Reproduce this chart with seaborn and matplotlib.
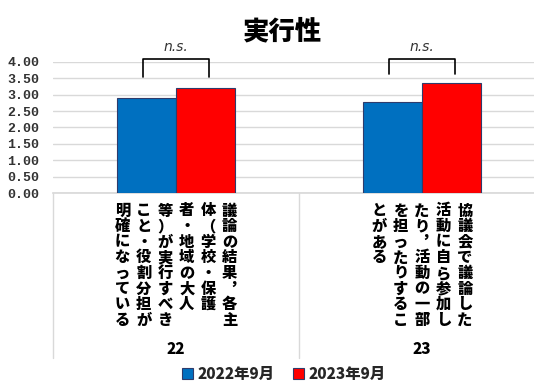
import matplotlib
matplotlib.use("Agg")
import matplotlib.pyplot as plt
import matplotlib.transforms as mtransforms
from matplotlib.patches import Patch
import seaborn as sns
import pandas as pd

# ---- data ----
categories = ["22", "23"]
series_names = ["2022年9月", "2023年9月"]
values_2022 = [2.89, 2.77]
values_2023 = [3.22, 3.37]
yticks = [0.0, 0.5, 1.0, 1.5, 2.0, 2.5, 3.0, 3.5, 4.0]
# vertical description columns (right to left)
descriptions = [
    ["議論の結果︐各主", "体（学校・保護", "者・地域の大人", "等）が実行すべき", "こと・役割分担が", "明確になっている"],
    ["協議会で議論した", "活動に自ら参加し", "たり︐活動の一部", "を担ったりするこ", "とがある"],
]
title = "実行性"
sig_labels = ["n.s.", "n.s."]
bracket_low = [3.54, 3.63]
bracket_top = 4.09
sig_y = 4.45

colors = ["#0070C0", "#FF0000"]

df = pd.DataFrame({
    "cat": categories * 2,
    "series": [series_names[0]] * 2 + [series_names[1]] * 2,
    "value": values_2022 + values_2023,
})

sns.set_theme(style="white")
plt.rcParams["font.family"] = ["Noto Sans CJK JP", "DejaVu Sans"]

fig = plt.figure(figsize=(5.34, 3.83), dpi=100)
ax = fig.add_axes([53 / 534, 1 - 193 / 383, 492 / 534, 131 / 383])

sns.barplot(data=df, x="cat", y="value", hue="series", palette=colors,
            width=0.48, ax=ax, edgecolor="#2F3B6B", linewidth=0.8,
            saturation=1, legend=False, zorder=3)

ax.set_xlim(-0.5, 1.5)
ax.set_ylim(0, 4)
ax.set_yticks(yticks)
ax.set_yticklabels([f"{v:.2f}" for v in yticks], family="Liberation Mono",
                   fontweight="bold", fontsize=9.5, color="#333333")
ax.tick_params(axis="y", length=0, pad=10)
ax.set_xticks([])
ax.set_xlabel("")
ax.set_ylabel("")
for s in ["top", "right", "left"]:
    ax.spines[s].set_visible(False)
ax.spines["bottom"].set_color("#D9D9D9")
ax.yaxis.grid(True, color="#D9D9D9", linewidth=1.0, zorder=0)
ax.set_axisbelow(True)

# category dividers
blend = mtransforms.blended_transform_factory(ax.transData, ax.transAxes)
for xd in [-0.5, 0.5, 1.5]:
    ax.plot([xd, xd], [0, -165 / 131], transform=blend, color="#D9D9D9",
            linewidth=1.0, clip_on=False)

# vertical descriptions and category numbers
col_sp = 21.5
char_sp = 15.6
for i, cols in enumerate(descriptions):
    n = len(cols)
    for j, col in enumerate(cols):
        dx = ((n - 1) / 2 - j) * col_sp
        for k, ch in enumerate(col):
            tr = mtransforms.offset_copy(blend, fig=fig, x=dx, y=-(18 + k * char_sp), units="dots")
            ax.text(i, 0, ch, transform=tr, ha="center", va="center",
                    fontsize=11, fontweight=900, color="black", clip_on=False)
    tr = mtransforms.offset_copy(blend, fig=fig, x=0, y=-157, units="dots")
    ax.text(i, 0, categories[i], transform=tr, ha="center", va="center",
            fontsize=11, fontweight=900, color="black", clip_on=False)

# significance brackets
half = 0.134
for i in range(len(categories)):
    x0, x1 = i - half, i + half
    ax.plot([x0, x0, x1, x1], [bracket_low[i], bracket_top, bracket_top, bracket_low[i]],
            color="black", linewidth=1.2, clip_on=False, zorder=5)
    ax.text(i, sig_y, sig_labels[i], ha="center", va="center", fontsize=10,
            style="italic", family="DejaVu Sans", color="#333333", clip_on=False)

fig.text(282 / 534, 1 - 31 / 383, title, ha="center", va="center",
         fontsize=19, fontweight=900, color="black")

handles = [Patch(facecolor=c, edgecolor="#2F3B6B", linewidth=0.8) for c in colors]
fig.legend(handles, series_names, loc="center", bbox_to_anchor=(284 / 534, 1 - 374 / 383),
           ncol=2, frameon=False, handlelength=0.7, handleheight=0.7,
           handletextpad=0.3, columnspacing=1.2,
           prop={"family": "Noto Sans CJK JP", "weight": 900, "size": 11})

fig.savefig("out.png", dpi=100)
